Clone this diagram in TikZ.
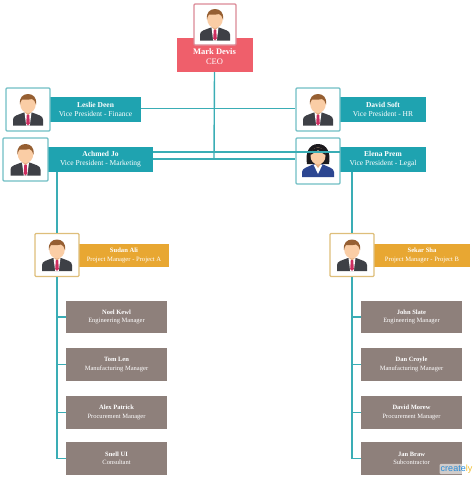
\documentclass[tikz,border=0pt]{standalone}
\usepackage{fontspec}
\setmainfont{Liberation Serif}
\setsansfont{Liberation Sans}
\usetikzlibrary{positioning}
\definecolor{red1}{RGB}{239,95,107}
\definecolor{teal1}{RGB}{31,163,176}
\definecolor{orange1}{RGB}{232,167,50}
\definecolor{grey1}{RGB}{142,128,123}
\definecolor{line1}{RGB}{58,173,181}
\definecolor{pink2}{RGB}{219,137,150}
\definecolor{teal2}{RGB}{112,190,196}
\definecolor{orange2}{RGB}{222,190,122}
\definecolor{hair1}{RGB}{150,95,50}
\definecolor{skin1}{RGB}{250,205,165}
\definecolor{skin2}{RGB}{232,175,130}
\definecolor{suit1}{RGB}{62,64,70}
\definecolor{tie1}{RGB}{205,45,95}
\definecolor{navy1}{RGB}{44,70,145}
\definecolor{black1}{RGB}{28,26,30}
\definecolor{logo1}{RGB}{40,140,215}
\definecolor{logo2}{RGB}{240,190,50}
\begin{document}
\begin{tikzpicture}[
    x=1pt, y=-1pt,
    photo/.style={draw=teal2, fill=white, line width=1.4pt, rounded corners=1pt, minimum width=44pt, minimum height=43pt, inner sep=0pt},
    ceobox/.style={fill=red1, text=white, minimum width=76pt, minimum height=34pt, inner sep=0pt, align=center, font=\fontsize{8.5}{10}\selectfont},
    vpbox/.style={fill=teal1, text=white, minimum height=25pt, inner sep=0pt, align=center, font=\fontsize{7.5}{9}\selectfont},
    pmbox/.style={fill=orange1, text=white, minimum height=23pt, inner sep=0pt, align=center, font=\fontsize{6.6}{8.5}\selectfont},
    staff/.style={fill=grey1, text=white, minimum width=101pt, minimum height=32.5pt, inner sep=0pt, align=center, font=\fontsize{6.5}{8.5}\selectfont},
    link/.style={draw=line1, line width=1.4pt},
    man/.pic={
        \fill[suit1] (-15,16) -- (-15,10) .. controls (-15,6) and (-10,5.5) .. (-4,3) -- (4,3) .. controls (10,5.5) and (15,6) .. (15,10) -- (15,16) -- cycle;
        \fill[white] (-3.5,3) -- (3.5,3) -- (1.8,16) -- (-1.8,16) -- cycle;
        \fill[skin2] (-3,-1) rectangle (3,3) (-3,3) -- (3,3) -- (0,5.5) -- cycle;
        \fill[tie1] (-1.2,5) -- (1.2,5) -- (1.8,14) -- (0,16) -- (-1.8,14) -- cycle;
        \fill[skin1] (0,-5.5) ellipse [x radius=7.8, y radius=9];
        \fill[hair1] (-8,-5) .. controls (-9,-12) and (-5,-15.5) .. (0,-15.5) .. controls (5,-15.5) and (9,-12) .. (8,-5) .. controls (7,-8) and (6,-10) .. (4,-10.5) .. controls (0,-9.5) and (-4,-10) .. (-6,-10) .. controls (-7,-9) and (-7.5,-7) .. (-8,-5) -- cycle;
    },
    woman/.pic={
        \fill[black1] (-11,3) .. controls (-13,-8) and (-9,-17) .. (0,-17) .. controls (9,-17) and (13,-8) .. (11,3) -- cycle;
        \fill[navy1] (-16,16) -- (-16,11) .. controls (-16,7) and (-10,6) .. (-4,3) -- (4,3) .. controls (10,6) and (16,7) .. (16,11) -- (16,16) -- cycle;
        \fill[white] (-4.5,3.5) -- (4.5,3.5) -- (0,13) -- cycle;
        \fill[skin2] (-3,-1) rectangle (3,3) (-3,3) -- (3,3) -- (0,7) -- cycle;
        \fill[skin1] (0,-5) ellipse [x radius=7.5, y radius=8.5];
        \fill[black1] (-7.5,-6) .. controls (-7,-12) and (-3,-14) .. (1,-13) .. controls (5,-13) and (7,-11) .. (7.5,-6) .. controls (5,-8) and (2,-9) .. (0,-11) .. controls (-2,-9) and (-5,-8) .. (-7.5,-6) -- cycle;
    }
]

    \useasboundingbox (0,0) rectangle (474,479);

    \coordinate (busa) at (214,152);
    \coordinate (busb) at (214,159);
    \coordinate (busc) at (214,108.7);

    \node[ceobox, name=ceo] at(214.5,55) {\mbox{}\\\textbf{Mark Devis}\\CEO};
    \node[photo, draw=pink2, name=ceophoto, minimum width=42pt, minimum height=41pt] at(215,24.5) {};

    \node[vpbox, name=VPa, minimum width=91pt] at(95.5,109.5) {\textbf{Leslie Deen}\\Vice President - Finance};
    \node[photo, name=VPaphoto] at(28,109.5) {};
    \node[vpbox, name=VPb, minimum width=86pt] at(383,109.5) {\textbf{David Soft}\\Vice President - HR};
    \node[photo, name=VPbphoto] at(318,109.5) {};
    \node[vpbox, name=VPc, minimum width=105pt] at(100.5,159.5) {\textbf{Achmed Jo}\\Vice President - Marketing};
    \node[photo, name=VPcphoto, minimum width=45pt] at(25.5,159.5) {};
    \node[vpbox, name=VPd, minimum width=86pt] at(383,159.5) {\textbf{Elena Prem}\\Vice President - Legal};
    \node[photo, name=VPdphoto, minimum height=46pt] at(318,161) {};

    \node[pmbox, name=PMa, minimum width=90pt] at(124,255.5) {\textbf{Sudan Ali}\\Project Manager - Project A};
    \node[photo, draw=orange2, name=PMaphoto] at(57,255) {};
    \node[pmbox, name=PMb, minimum width=96pt] at(422,255.5) {\textbf{Sekar Sha}\\Project Manager - Project B};
    \node[photo, draw=orange2, name=PMbphoto] at(352,255) {};

    \node[staff, name=Sa] at(116.5,317) {\textbf{Noel Kewl}\\Engineering Manager};
    \node[staff, name=Sb] at(116.5,364.5) {\textbf{Tom Len}\\Manufacturing Manager};
    \node[staff, name=Sc] at(116.5,412.5) {\textbf{Alex Patrick}\\Procurement Manager};
    \node[staff, name=Sd] at(116.5,458.5) {\textbf{Snell UI}\\Consultant};

    \node[staff, name=Ta] at(411.5,317) {\textbf{John Slate}\\Engineering Manager};
    \node[staff, name=Tb] at(411.5,364.5) {\textbf{Dan Croyle}\\Manufacturing Manager};
    \node[staff, name=Tc] at(411.5,412.5) {\textbf{David Morew}\\Procurement Manager};
    \node[staff, name=Td] at(411.5,458.5) {\textbf{Jan Braw}\\Subcontractor};

    \pic at (ceophoto) {man};
    \pic at (VPaphoto) {man};
    \pic at (VPbphoto) {man};
    \pic at (VPcphoto) {man};
    \pic at (VPdphoto) {woman};
    \pic at (PMaphoto) {man};
    \pic at (PMbphoto) {man};

    \draw[link] (ceo.south) -- (busb);
    \draw[link] (VPa.east |- busc) -- (VPbphoto.west |- busc);
    \draw[link] (VPc.east |- busa) -- (VPd.west |- busa);
    \draw[link] (VPc.east |- busb) -- (VPdphoto.west |- busb);

    \draw[link] (PMaphoto.north |- VPc.south) -- (PMaphoto.north);
    \draw[link] (PMbphoto.north |- VPd.south) -- (PMbphoto.north);

    \draw[link] (PMaphoto.south) |- (Sd.west);
    \draw[link] (PMaphoto.south |- Sa) -- (Sa.west);
    \draw[link] (PMaphoto.south |- Sb) -- (Sb.west);
    \draw[link] (PMaphoto.south |- Sc) -- (Sc.west);

    \draw[link] (PMbphoto.south) |- (Td.west);
    \draw[link] (PMbphoto.south |- Ta) -- (Ta.west);
    \draw[link] (PMbphoto.south |- Tb) -- (Tb.west);
    \draw[link] (PMbphoto.south |- Tc) -- (Tc.west);

    \node[name=logo, inner sep=1pt, fill=white, fill opacity=0.6, text opacity=1, rounded corners=1pt, font=\sffamily\fontsize{9}{9}\selectfont, text=logo1] at(456.5,469) {create\textcolor{logo2}{ly}};
\end{tikzpicture}
\end{document}
